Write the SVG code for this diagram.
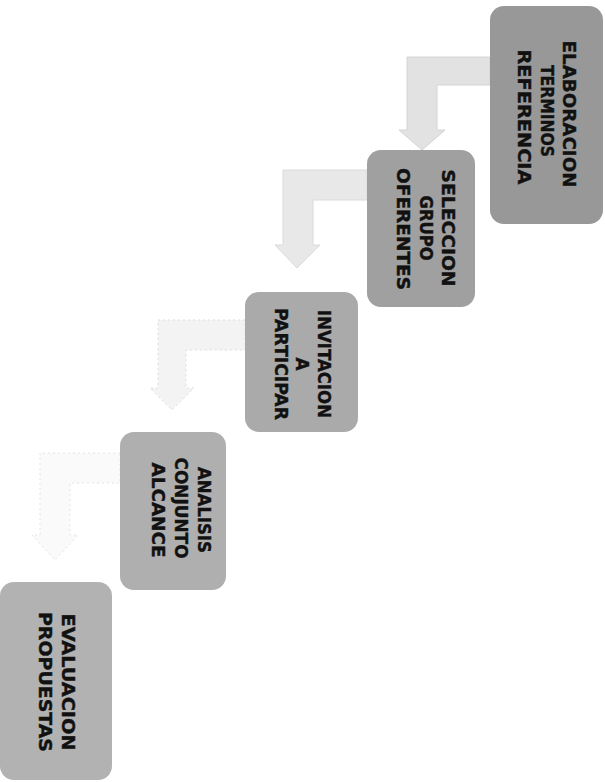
<svg xmlns="http://www.w3.org/2000/svg" width="605" height="782" viewBox="0 0 605 782">
<style>
.box{stroke:none}
.lbl{font-family:"DejaVu Sans","Liberation Sans",Arial,sans-serif;font-weight:bold;font-size:17px;fill:#111111;stroke:#111111;stroke-width:0.4;text-anchor:middle}
.arr{stroke-width:1}
</style>
<rect width="605" height="782" fill="#ffffff"/>
<g id="connectors">
<path class="arr" d="M490,57 L407,57 L407,130 L399,130 L422,150 L445,130 L437,130 L437,85 L490,85 Z" fill="#e2e2e2" stroke="#d4d4d4"/>
<path class="arr" d="M367,170 L283,170 L283,245 L275,245 L297,268 L320,245 L313,245 L313,200 L367,200 Z" fill="#e8e8e8" stroke="#dadada"/>
<path class="arr" d="M245,320 L158,320 L158,388 L150,388 L172,410 L194,388 L186,388 L186,350 L245,350 Z" fill="#f3f3f3" stroke="#dddddd" stroke-dasharray="2 3"/>
<path class="arr" d="M120,453 L40,453 L40,535 L32,535 L55,560 L78,535 L70,535 L70,483 L120,483 Z" fill="#fafafa" stroke="#e4e4e4" stroke-dasharray="2 3"/>
</g>
<g id="n1">
<rect class="box" x="490" y="6" width="113" height="218" rx="14" fill="#989898"/>
<g transform="translate(547,114) rotate(90)">
<text class="lbl" x="0" y="-16" textLength="147" lengthAdjust="spacingAndGlyphs">ELABORACION</text>
<text class="lbl" x="-3" y="6" textLength="92" lengthAdjust="spacingAndGlyphs">TERMINOS</text>
<text class="lbl" x="3" y="29" textLength="135" lengthAdjust="spacingAndGlyphs">REFERENCIA</text>
</g>
</g>
<g id="n2">
<rect class="box" x="367" y="150" width="108" height="157" rx="14" fill="#a0a0a0"/>
<g transform="translate(425,228) rotate(90)">
<text class="lbl" x="0" y="-16.5" textLength="117" lengthAdjust="spacingAndGlyphs">SELECCION</text>
<text class="lbl" x="0" y="5" textLength="65" lengthAdjust="spacingAndGlyphs">GRUPO</text>
<text class="lbl" x="1" y="28.5" textLength="122" lengthAdjust="spacingAndGlyphs">OFERENTES</text>
</g>
</g>
<g id="n3">
<rect class="box" x="245" y="292" width="113" height="140" rx="14" fill="#aaaaaa"/>
<g transform="translate(302,364) rotate(90)">
<text class="lbl" x="0" y="-16" textLength="108" lengthAdjust="spacingAndGlyphs">INVITACION</text>
<text class="lbl" x="0" y="6">A</text>
<text class="lbl" x="0" y="27" textLength="112" lengthAdjust="spacingAndGlyphs">PARTICIPAR</text>
</g>
</g>
<g id="n4">
<rect class="box" x="120" y="432" width="106" height="158" rx="14" fill="#afafaf"/>
<g transform="translate(181,510) rotate(90)">
<text class="lbl" x="0" y="-17" textLength="86" lengthAdjust="spacingAndGlyphs">ANALISIS</text>
<text class="lbl" x="-2" y="6" textLength="101" lengthAdjust="spacingAndGlyphs">CONJUNTO</text>
<text class="lbl" x="0" y="29.5" textLength="95" lengthAdjust="spacingAndGlyphs">ALCANCE</text>
</g>
</g>
<g id="n5">
<rect class="box" x="0" y="582" width="112" height="198" rx="14" fill="#b2b2b2"/>
<g transform="translate(56,682) rotate(90)">
<text class="lbl" x="0" y="-6" textLength="137" lengthAdjust="spacingAndGlyphs">EVALUACION</text>
<text class="lbl" x="0" y="17" textLength="140" lengthAdjust="spacingAndGlyphs">PROPUESTAS</text>
</g>
</g>
</svg>
